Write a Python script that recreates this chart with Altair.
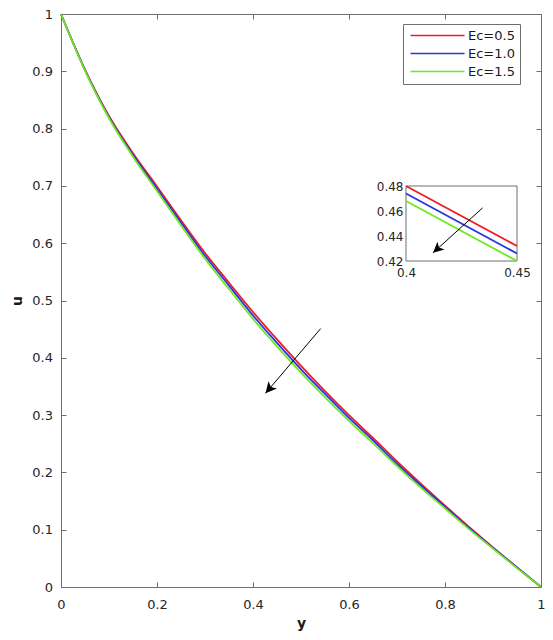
import altair as alt
import pandas as pd

# ---- data ----
y_pos = [0.0, 0.05, 0.1, 0.15, 0.2, 0.25, 0.3, 0.35, 0.4, 0.45, 0.5,
         0.55, 0.6, 0.65, 0.7, 0.75, 0.8, 0.85, 0.9, 0.95, 1.0]
u_ec05 = [1.0, 0.903, 0.822, 0.757, 0.699, 0.640, 0.583, 0.531, 0.480, 0.432, 0.386,
          0.342, 0.300, 0.260, 0.219, 0.180, 0.142, 0.105, 0.069, 0.034, 0.0]
u_ec10 = [1.0, 0.902, 0.820, 0.754, 0.695, 0.636, 0.578, 0.526, 0.474, 0.426, 0.380,
          0.337, 0.295, 0.256, 0.215, 0.177, 0.140, 0.103, 0.068, 0.034, 0.0]
u_ec15 = [1.0, 0.901, 0.818, 0.751, 0.691, 0.631, 0.573, 0.520, 0.468, 0.420, 0.374,
          0.331, 0.290, 0.251, 0.211, 0.173, 0.137, 0.101, 0.067, 0.033, 0.0]
series = ["Ec=0.5", "Ec=1.0", "Ec=1.5"]
colors = ["#ee1c25", "#2a35e0", "#6fe820"]

x_ticks = [0, 0.2, 0.4, 0.6, 0.8, 1]
y_ticks = [0, 0.1, 0.2, 0.3, 0.4, 0.5, 0.6, 0.7, 0.8, 0.9, 1]

inset_x = [0.4, 0.45]
inset_y = [0.42, 0.48]
inset_y_ticks = [0.42, 0.44, 0.46, 0.48]

arrow_x = [0.541, 0.426]
arrow_u = [0.451, 0.338]
inset_arrow_x = [0.4345, 0.4122]
inset_arrow_u = [0.4625, 0.4266]

# ---- tables ----
rows = []
for name, vals in zip(series, [u_ec05, u_ec10, u_ec15]):
    for yy, uu in zip(y_pos, vals):
        rows.append({"y": yy, "u": uu, "Ec": name})
df = pd.DataFrame(rows)
arrow_df = pd.DataFrame({"y": arrow_x, "u": arrow_u})
head_df = arrow_df.tail(1)
iarrow_df = pd.DataFrame({"y": inset_arrow_x, "u": inset_arrow_u})
ihead_df = iarrow_df.tail(1)
box_df = pd.DataFrame({"x0": [inset_x[0]], "x1": [inset_x[1]],
                       "y0": [inset_y[0]], "y1": [inset_y[1]]})

W, H = 480, 573
AX = "#6e6e6e"
FONT = "DejaVu Sans"
HEAD = "M0,0L-0.5,1L0,0.75L0.5,1Z"

main_x = alt.Scale(domain=[0, 1], nice=False, zero=False)
main_y = alt.Scale(domain=[0, 1], nice=False, zero=False)
in_x = alt.Scale(domain=inset_x, range=[345, 456], nice=False, zero=False)
in_y = alt.Scale(domain=inset_y, range=[247, 172], nice=False, zero=False)

color = alt.Color("Ec:N", scale=alt.Scale(domain=series, range=colors),
                  legend=alt.Legend(title=None, orient="none", legendX=342, legendY=10,
                                    symbolType="M0,0H18", symbolSize=36,
                                    symbolStrokeWidth=1.5, symbolOffset=-4,
                                    padding=5, rowPadding=4, labelOffset=51,
                                    labelFont=FONT, labelFontSize=13,
                                    labelColor="#1a1a1a",
                                    strokeColor=AX, fillColor="white"))

main = alt.Chart(df).mark_line(strokeWidth=1.8, interpolate="monotone").encode(
    x=alt.X("y:Q", scale=main_x,
            axis=alt.Axis(orient="bottom", values=x_ticks, format="~g", offset=-5,
                          tickSize=5, labelPadding=11, domain=False,
                          title="y", titlePadding=5)),
    y=alt.Y("u:Q", scale=main_y,
            axis=alt.Axis(orient="left", values=y_ticks, format="~g", offset=-5,
                          tickSize=5, labelPadding=8.5, domain=False,
                          title="u", titlePadding=7)),
    color=color,
    order=alt.Order("y:Q"),
)

arrow = alt.Chart(arrow_df).mark_line(color="black", strokeWidth=1).encode(
    x=alt.X("y:Q", scale=main_x,
            axis=alt.Axis(orient="top", values=x_ticks, labels=False, title=None,
                          offset=-5, tickSize=5, domain=False)),
    y=alt.Y("u:Q", scale=main_y,
            axis=alt.Axis(orient="right", values=y_ticks, labels=False, title=None,
                          offset=-5, tickSize=5, domain=False)),
)
head = alt.Chart(head_df).mark_point(shape=HEAD, filled=True, size=500, angle=220.5,
                                     color="black", opacity=1, strokeWidth=0).encode(
    x=alt.X("y:Q", scale=main_x, axis=None),
    y=alt.Y("u:Q", scale=main_y, axis=None),
)

box = alt.Chart(box_df).mark_rect(fill="white", stroke=AX, strokeWidth=1).encode(
    x=alt.X("x0:Q", scale=in_x,
            axis=alt.Axis(orient="bottom", values=inset_x, format="~g", offset=-326,
                          ticks=False, tickSize=0, domain=False, labelPadding=6,
                          labelFontSize=12, title=None)),
    x2="x1:Q",
    y=alt.Y("y0:Q", scale=in_y,
            axis=alt.Axis(orient="left", values=inset_y_ticks, format=".2f", offset=-345,
                          ticks=False, tickSize=0, domain=False, labelPadding=3,
                          labelFontSize=12, title=None)),
    y2="y1:Q",
)
inset_lines = alt.Chart(df).transform_filter(
    "datum.y >= 0.4 && datum.y <= 0.45"
).mark_line(strokeWidth=1.8).encode(
    x=alt.X("y:Q", scale=in_x, axis=None),
    y=alt.Y("u:Q", scale=in_y, axis=None),
    color=alt.Color("Ec:N", scale=alt.Scale(domain=series, range=colors), legend=None),
    order=alt.Order("y:Q"),
)
iarrow = alt.Chart(iarrow_df).mark_line(color="black", strokeWidth=1).encode(
    x=alt.X("y:Q", scale=in_x, axis=None),
    y=alt.Y("u:Q", scale=in_y, axis=None),
)
ihead = alt.Chart(ihead_df).mark_point(shape=HEAD, filled=True, size=450, angle=228,
                                       color="black", opacity=1, strokeWidth=0).encode(
    x=alt.X("y:Q", scale=in_x, axis=None),
    y=alt.Y("u:Q", scale=in_y, axis=None),
)

chart = alt.layer(main, arrow, head, box, inset_lines, iarrow, ihead).resolve_scale(
    x="independent", y="independent"
).properties(
    width=W, height=H,
    autosize=alt.AutoSizeParams(type="none"),
    padding={"left": 53, "top": 6, "right": 4, "bottom": 45},
).configure_view(
    stroke=AX, strokeWidth=1
).configure_axis(
    grid=False, labelFont=FONT, labelFontSize=13, labelColor="#262626",
    titleFont=FONT, titleFontSize=14, titleFontWeight="bold", titleColor="#1a1a1a",
    tickColor=AX, domainColor=AX, labelFlush=False, labelOverlap=False,
)

chart.save("out.html", embed_options={"renderer": "svg", "actions": False})
